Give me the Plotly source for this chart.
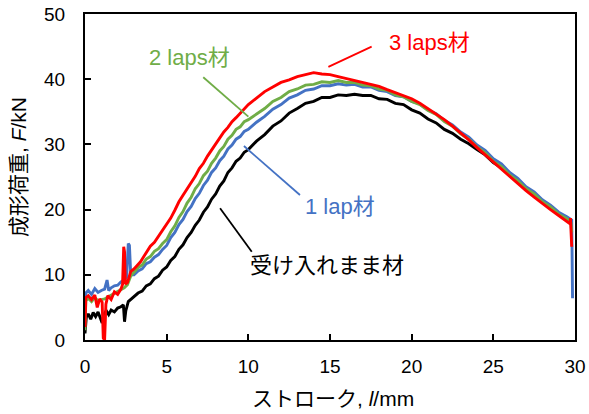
import plotly.graph_objects as go

# ---------------- data ----------------
# 受け入れまま材 (as received)
x_black = [0.0, 0.08, 0.2, 0.35, 0.5, 0.65, 0.8, 0.95, 1.05, 1.15, 1.3, 1.45, 1.6, 1.8, 2.0, 2.2, 2.35, 2.42, 2.5, 2.65, 2.8,
           3.0, 3.25, 3.5, 3.75, 4.0, 4.25, 4.5, 4.75, 5.0, 5.25, 5.5, 5.75, 6.0, 6.25, 6.5, 6.75, 7.0, 7.25, 7.5, 7.75,
           8.0, 8.25, 8.5, 8.75, 9.0, 9.25, 9.5, 9.75, 10.0, 10.5, 11.0, 11.5, 12.0, 12.5, 13.0, 13.5, 14.0, 14.5, 15.0,
           15.5, 16.0, 16.5, 17.0, 17.5, 18.0, 18.5, 19.0, 19.5, 20.0, 20.5, 21.0, 21.5, 22.0, 22.5, 23.0, 23.5, 24.0,
           24.5, 25.0, 25.5, 26.0, 26.5, 27.0, 27.5, 28.0, 28.5, 29.0, 29.5, 29.75]
y_black = [1.0, 3.5, 4.0, 3.2, 4.2, 3.6, 4.3, 3.4, 2.6, 3.8, 4.5, 3.9, 4.6, 4.3, 4.9, 5.1, 5.4, 2.8, 4.5, 5.9, 6.2,
           6.6, 7.2, 7.5, 8.3, 8.6, 9.4, 9.8, 10.7, 11.2, 12.2, 12.8, 13.9, 14.6, 15.7, 16.5, 17.6, 18.4, 19.6, 20.4, 21.6,
           22.4, 23.6, 24.4, 25.7, 26.4, 27.4, 27.9, 28.8, 29.2, 30.5, 31.5, 32.8, 33.6, 34.8, 35.5, 36.3, 36.6, 37.2, 37.2,
           37.6, 37.5, 37.7, 37.5, 37.5, 37.0, 36.9, 36.3, 36.1, 35.3, 34.8, 33.9, 33.3, 32.3, 31.7, 30.8, 30.1, 29.2,
           28.4, 27.2, 26.4, 25.2, 24.3, 23.1, 22.3, 21.1, 20.3, 19.2, 18.5, 18.0]

# 1 lap材
x_blue = [0.0, 0.05, 0.2, 0.4, 0.6, 0.8, 1.0, 1.2, 1.35, 1.45, 1.6, 1.8, 2.0, 2.2, 2.4, 2.55, 2.65, 2.72, 2.8,
          3.0, 3.25, 3.5, 3.75, 4.0, 4.25, 4.5, 4.75, 5.0, 5.25, 5.5, 5.75, 6.0, 6.25, 6.5, 6.75, 7.0, 7.25, 7.5, 7.75,
          8.0, 8.25, 8.5, 8.75, 9.0, 9.25, 9.5, 9.75, 10.0, 10.5, 11.0, 11.5, 12.0, 12.5, 13.0, 13.5, 14.0, 14.5, 15.0,
          15.5, 16.0, 16.5, 17.0, 17.5, 18.0, 18.5, 19.0, 19.5, 20.0, 20.5, 21.0, 21.5, 22.0, 22.5, 23.0, 23.5, 24.0,
          24.5, 25.0, 25.5, 26.0, 26.5, 27.0, 27.5, 28.0, 28.5, 29.0, 29.5, 29.8, 29.85]
y_blue = [3.0, 7.2, 7.6, 7.0, 7.9, 7.3, 7.6, 7.8, 9.2, 7.6, 8.0, 8.3, 8.4, 8.9, 9.2, 9.6, 14.8, 14.5, 10.0,
          10.0, 10.6, 10.9, 11.7, 12.0, 12.7, 13.1, 13.9, 14.5, 15.7, 16.5, 17.7, 18.5, 19.7, 20.5, 21.7, 22.5, 23.7, 24.5,
          25.7, 26.4, 27.5, 28.2, 29.3, 29.9, 30.8, 31.2, 32.0, 32.3, 33.4, 34.3, 35.4, 36.1, 37.1, 37.6, 38.3, 38.5, 39.0,
          39.0, 39.3, 39.1, 39.2, 38.8, 38.8, 38.3, 38.1, 37.5, 37.3, 36.6, 36.2, 35.3, 34.7, 33.7, 33.0, 31.9, 31.1, 29.9,
          29.1, 27.8, 27.0, 25.7, 24.8, 23.5, 22.7, 21.5, 20.7, 19.6, 18.9, 18.4, 6.4]

# 2 laps材
x_green = [0.0, 0.05, 0.2, 0.4, 0.6, 0.8, 1.0, 1.2, 1.4, 1.6, 1.8, 2.0, 2.2, 2.4, 2.6, 2.8,
           3.0, 3.25, 3.5, 3.75, 4.0, 4.25, 4.5, 4.75, 5.0, 5.25, 5.5, 5.75, 6.0, 6.25, 6.5, 6.75, 7.0, 7.25, 7.5, 7.75,
           8.0, 8.25, 8.5, 8.75, 9.0, 9.25, 9.5, 9.75, 10.0, 10.5, 11.0, 11.5, 12.0, 12.5, 13.0, 13.5, 14.0, 14.5, 15.0,
           15.5, 16.0, 16.5, 17.0, 17.5, 18.0, 18.5, 19.0, 19.5, 20.0, 20.5, 21.0, 21.5, 22.0, 22.5, 23.0, 23.5, 24.0,
           24.5, 25.0, 25.5, 26.0, 26.5, 27.0, 27.5, 28.0, 28.5, 29.0, 29.5, 29.75, 29.8]
y_green = [1.5, 6.0, 6.4, 5.9, 6.5, 6.0, 6.2, 6.3, 6.6, 6.9, 7.2, 7.5, 7.8, 8.0, 8.5, 9.8,
           10.4, 11.1, 11.5, 12.4, 12.8, 13.6, 14.0, 14.8, 15.4, 16.6, 17.5, 18.8, 19.7, 21.0, 21.9, 23.2, 24.0, 25.2, 25.9,
           27.1, 27.9, 29.0, 29.7, 30.8, 31.4, 32.3, 32.7, 33.5, 33.8, 34.7, 35.5, 36.6, 37.2, 38.1, 38.5, 39.1, 39.2, 39.6,
           39.5, 39.8, 39.5, 39.5, 39.1, 39.0, 38.5, 38.3, 37.6, 37.3, 36.6, 36.1, 35.2, 34.6, 33.5, 32.8, 31.6, 30.8, 29.6,
           28.7, 27.4, 26.6, 25.3, 24.4, 23.2, 22.4, 21.2, 20.4, 19.3, 18.6, 18.0, 16.5]

# 3 laps材
x_red = [0.0, 0.05, 0.2, 0.4, 0.6, 0.75, 0.9, 1.05, 1.12, 1.2, 1.28, 1.4, 1.6, 1.8, 2.0, 2.2, 2.3, 2.37, 2.42, 2.47,
         2.6, 2.8, 3.0, 3.2, 3.4, 3.6, 3.8, 4.0, 4.25, 4.5, 4.75, 5.0, 5.25, 5.5, 5.75, 6.0, 6.25, 6.5, 6.75, 7.0, 7.25,
         7.5, 7.75, 8.0, 8.25, 8.5, 8.75, 9.0, 9.25, 9.5, 9.75, 10.0, 10.5, 11.0, 11.5, 12.0, 12.5, 13.0, 13.5, 14.0,
         14.5, 15.0, 15.5, 16.0, 16.5, 17.0, 17.5, 18.0, 18.5, 19.0, 19.5, 20.0, 20.5, 21.0, 21.5, 22.0, 22.5, 23.0,
         23.5, 24.0, 24.5, 25.0, 25.5, 26.0, 26.5, 27.0, 27.5, 28.0, 28.5, 29.0, 29.5, 29.7, 29.72, 29.75, 29.8]
y_red = [2.0, 6.5, 6.8, 6.2, 6.9, 5.0, 6.3, 5.8, 0.3, 0.0, 5.5, 6.8, 6.2, 7.4, 7.0, 7.8, 8.5, 14.3, 13.5, 8.6,
         8.8, 10.5, 10.9, 11.5, 12.0, 12.8, 13.6, 14.4, 15.0, 15.9, 16.8, 17.6, 18.7, 19.9, 21.2, 22.2, 23.1, 24.2, 25.1,
         26.3, 27.1, 28.2, 29.1, 30.1, 30.9, 31.9, 32.6, 33.5, 34.1, 34.8, 35.4, 36.1, 37.1, 38.1, 38.8, 39.5, 39.9, 40.4,
         40.7, 41.0, 40.8, 40.7, 40.4, 40.1, 39.8, 39.5, 39.2, 38.9, 38.4, 37.9, 37.5, 37.0, 36.3, 35.5, 34.7, 33.8, 32.8,
         31.8, 30.7, 29.5, 28.4, 27.2, 26.1, 25.0, 23.9, 22.9, 21.9, 20.9, 20.0, 19.1, 18.2, 17.8, 18.7, 16.5, 14.3]

x_ticks = [0, 5, 10, 15, 20, 25, 30]
y_ticks = [0, 10, 20, 30, 40, 50]

series = [
    ("受け入れまま材", x_black, y_black, "#000000"),
    ("1 lap材", x_blue, y_blue, "#4472C4"),
    ("2 laps材", x_green, y_green, "#70AD47"),
    ("3 laps材", x_red, y_red, "#FF0000"),
]

FONT = "Liberation Sans, Arial, Noto Sans CJK JP"

fig = go.Figure()
for name, xs, ys, col in series:
    fig.add_trace(go.Scatter(x=xs, y=ys, mode="lines", name=name,
                             line=dict(color=col, width=2.9), hoverinfo="skip"))

# label annotations with leader lines (data coords)
labels = [
    ("3 laps材", "#FF0000", 21.1, 45.7, (14.9, 41.9, 17.55, 45.0)),
    ("2 laps材", "#70AD47", 6.37, 43.3, (7.24, 40.3, 10.0, 34.25)),
    ("1 lap材", "#4472C4", 15.6, 20.4, (9.73, 29.75, 13.16, 22.24)),
    ("受け入れまま材", "#000000", 14.8, 11.5, (8.27, 20.2, 10.21, 13.54)),
]
for text, col, tx, ty, (x0, y0, x1, y1) in labels:
    fig.add_shape(type="line", x0=x0, y0=y0, x1=x1, y1=y1, xref="x", yref="y",
                  line=dict(color=col, width=1.8))
    fig.add_annotation(x=tx, y=ty, xref="x", yref="y", text=text, showarrow=False,
                       xanchor="center", yanchor="middle",
                       font=dict(family=FONT, size=22, color=col))

# axis titles
fig.add_annotation(x=0.506, y=-0.178, xref="paper", yref="paper",
                   xanchor="center", yanchor="middle",
                   text="ストローク, <i>l</i>/mm", showarrow=False,
                   font=dict(family=FONT, size=21, color="black"))
fig.add_annotation(x=-0.137, y=0.53, xref="paper", yref="paper",
                   xanchor="center", yanchor="middle",
                   text="成形荷重, <i>F</i>/kN", showarrow=False, textangle=-90,
                   font=dict(family=FONT, size=21, color="black"))

axis_common = dict(showgrid=False, zeroline=False, showline=True, linecolor="black",
                   linewidth=2, mirror=True, ticks="inside", ticklen=6, tickwidth=2,
                   tickcolor="black", automargin=False,
                   tickfont=dict(family=FONT, size=19, color="black"))
fig.update_xaxes(range=[0, 30], tickvals=x_ticks, ticklabelstandoff=8, **axis_common)
fig.update_yaxes(range=[0, 50], tickvals=y_ticks, ticklabelstandoff=14, **axis_common)

fig.update_layout(width=589, height=414, margin=dict(l=85, r=14, t=14, b=74),
                  paper_bgcolor="white", plot_bgcolor="white", showlegend=False,
                  hovermode=False)

# remove the browser's default 8px body margin so the figure sits at the window origin
fig.write_html("out.html", config={"displayModeBar": False},
               post_script="document.body.style.margin='0';document.body.style.overflow='hidden';")
